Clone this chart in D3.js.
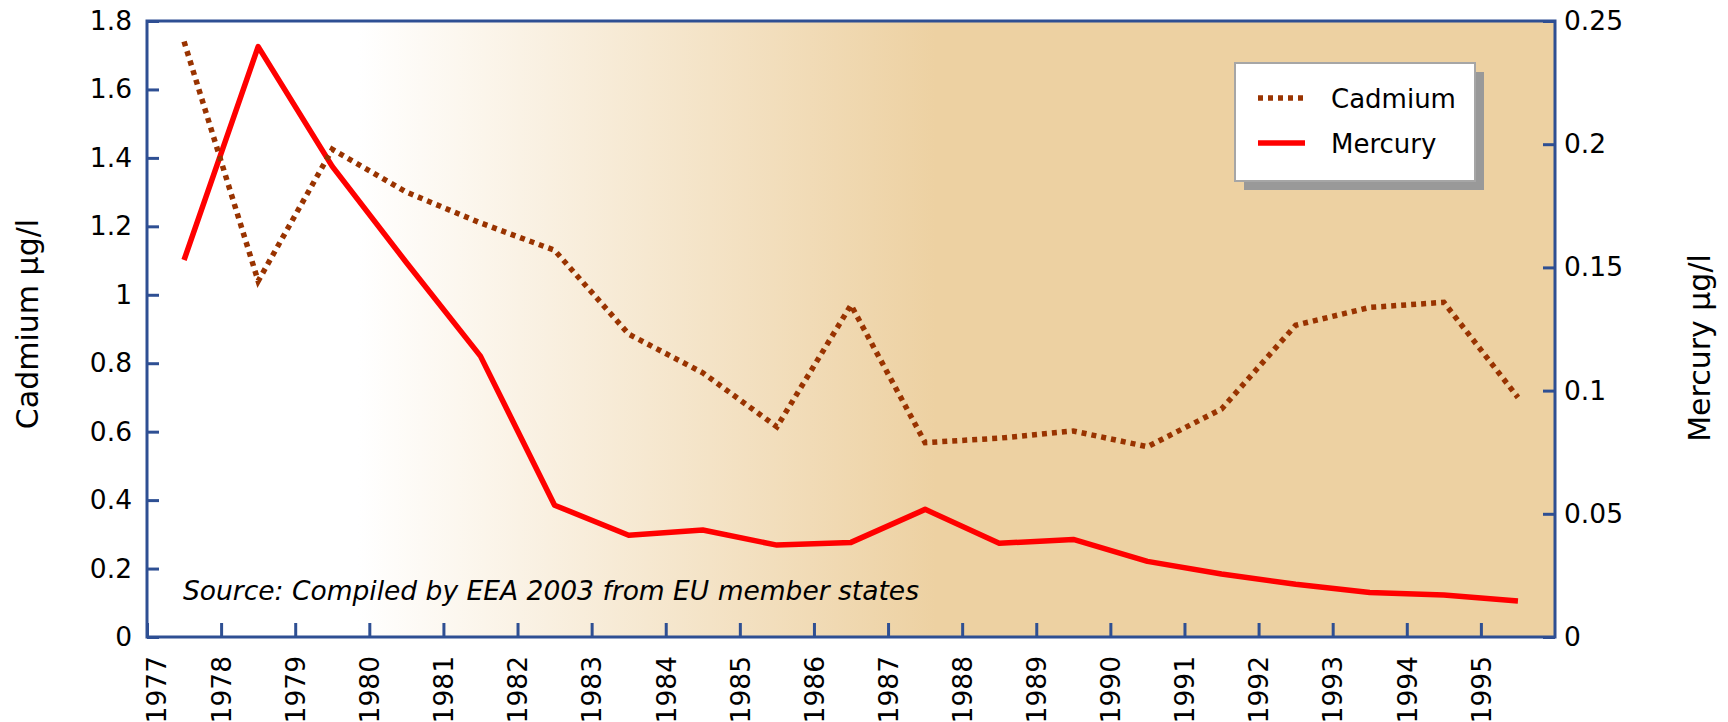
<!DOCTYPE html>
<html>
<head>
<meta charset="utf-8">
<script src="https://d3js.org/d3.v7.min.js"></script>
<style>
  body { margin: 0; background: #fff; }
  text { font-family: "DejaVu Sans", Verdana, sans-serif; }
</style>
</head>
<body>
<svg id="chart" width="1728" height="722"></svg>
<script>
// years (points sit at mid-year)
var years = [1977, 1978, 1979, 1980, 1981, 1982, 1983, 1984, 1985, 1986,
             1987, 1988, 1989, 1990, 1991, 1992, 1993, 1994, 1995];
// cadmium, µg/l (left axis)
var cadmium = [1.74, 1.04, 1.425, 1.30, 1.21, 1.13, 0.885, 0.772, 0.614, 0.97,
               0.568, 0.581, 0.602, 0.556, 0.666, 0.911, 0.963, 0.978, 0.70];
// mercury, µg/l (right axis)
var mercury = [0.153, 0.2396, 0.191, 0.152, 0.114, 0.0535, 0.0413, 0.0434, 0.0373, 0.0384,
               0.0518, 0.038, 0.0396, 0.0307, 0.0256, 0.0214, 0.0181, 0.017, 0.0146];
var leftTicks = [0, 0.2, 0.4, 0.6, 0.8, 1, 1.2, 1.4, 1.6, 1.8];
var rightTicks = [0, 0.05, 0.1, 0.15, 0.2, 0.25];
var seriesNames = ["Cadmium", "Mercury"];
var sourceNote = "Source: Compiled by EEA 2003 from EU member states";

// plot frame (note: "top" is reserved on window, so use p* names)
var pLeft = 147, pRight = 1555, pTop = 21, pBottom = 637;
var axisColor = "#2E4F93";
var tan = "#EDD1A2";

var svg = d3.select("#chart");

var x = d3.scaleLinear().domain([1977, 1996]).range([pLeft, pRight]);
var yL = d3.scaleLinear().domain([0, 1.8]).range([pBottom, pTop]);
var yR = d3.scaleLinear().domain([0, 0.25]).range([pBottom, pTop]);

// background gradient
var grad = svg.append("defs").append("linearGradient")
	.attr("id", "bg")
	.attr("x1", "0%").attr("x2", "100%")
	.attr("y1", "0%").attr("y2", "0%");
grad.append("stop").attr("offset", "15%").attr("stop-color", "#ffffff");
grad.append("stop").attr("offset", "56%").attr("stop-color", tan);
grad.append("stop").attr("offset", "100%").attr("stop-color", tan);

svg.append("rect")
	.attr("x", pLeft).attr("y", pTop)
	.attr("width", pRight - pLeft).attr("height", pBottom - pTop)
	.attr("fill", "url(#bg)");

// axes
var gl = svg.append("g")
	.attr("transform", "translate(" + pLeft + ",0)")
	.call(d3.axisLeft(yL).tickValues(leftTicks).tickFormat(function(d){ return String(d); })
		.tickSize(-12).tickPadding(15));
var gr = svg.append("g")
	.attr("transform", "translate(" + pRight + ",0)")
	.call(d3.axisRight(yR).tickValues(rightTicks).tickFormat(function(d){ return String(d); })
		.tickSize(-12).tickPadding(9));
var gb = svg.append("g")
	.attr("transform", "translate(0," + pBottom + ")")
	.call(d3.axisBottom(x).tickValues(years).tickFormat(function(d){ return String(d); })
		.tickSize(-14));

[gl, gr, gb].forEach(function(g){
	g.select(".domain").remove();
	g.selectAll(".tick line").attr("stroke", axisColor).attr("stroke-width", 3);
	g.selectAll(".tick text")
		.attr("fill", "#000")
		.style("font-size", "26.5px")
		.style("font-family", "'DejaVu Sans', Verdana, sans-serif");
});
gb.selectAll(".tick text")
	.attr("text-anchor", "end")
	.attr("transform", "rotate(-90)")
	.attr("x", -19)
	.attr("y", function(d, i){ return i === 0 ? 9 : 0; })  // first label nudged off the axis
	.attr("dy", "0.35em");

// frame
svg.append("rect")
	.attr("x", pLeft).attr("y", pTop)
	.attr("width", pRight - pLeft).attr("height", pBottom - pTop)
	.attr("fill", "none")
	.attr("stroke", axisColor)
	.attr("stroke-width", 3);

// lines
var cadLine = d3.line()
	.x(function(d, i){ return x(years[i] + 0.5); })
	.y(function(d){ return yL(d); });
var hgLine = d3.line()
	.x(function(d, i){ return x(years[i] + 0.5); })
	.y(function(d){ return yR(d); });

svg.append("path")
	.attr("d", hgLine(mercury))
	.attr("fill", "none")
	.attr("stroke", "#FF0000")
	.attr("stroke-width", 5.5)
	.attr("stroke-linejoin", "round");

svg.append("path")
	.attr("d", cadLine(cadmium))
	.attr("fill", "none")
	.attr("stroke", "#993300")
	.attr("stroke-width", 5.5)
	.attr("stroke-dasharray", "5,5");

// source note
svg.append("text")
	.attr("x", 183).attr("y", 600)
	.style("font-size", "26.5px")
	.style("font-style", "italic")
	.text(sourceNote);

// axis titles
svg.append("text")
	.attr("transform", "translate(38,324) rotate(-90)")
	.attr("text-anchor", "middle")
	.style("font-size", "30px")
	.text("Cadmium µg/l");
svg.append("text")
	.attr("transform", "translate(1710,348) rotate(-90)")
	.attr("text-anchor", "middle")
	.style("font-size", "30px")
	.text("Mercury µg/l");

// legend
var lg = svg.append("g").attr("transform", "translate(1235,63)");
lg.append("rect")
	.attr("x", 9).attr("y", 9)
	.attr("width", 240).attr("height", 118)
	.attr("fill", "#999999");
lg.append("rect")
	.attr("width", 240).attr("height", 118)
	.attr("fill", "#ffffff")
	.attr("stroke", "#A6A6A6")
	.attr("stroke-width", 2);
var items = lg.selectAll(".item").data(seriesNames).enter().append("g")
	.attr("transform", function(d, i){ return "translate(0," + (35 + i * 45) + ")"; });
items.append("line")
	.attr("x1", 23).attr("x2", 70)
	.attr("stroke", function(d, i){ return i === 0 ? "#993300" : "#FF0000"; })
	.attr("stroke-width", 5.5)
	.attr("stroke-dasharray", function(d, i){ return i === 0 ? "5,5" : null; });
items.append("text")
	.attr("x", 96).attr("y", 10)
	.style("font-size", "26px")
	.text(function(d){ return d; });
</script>
</body>
</html>
